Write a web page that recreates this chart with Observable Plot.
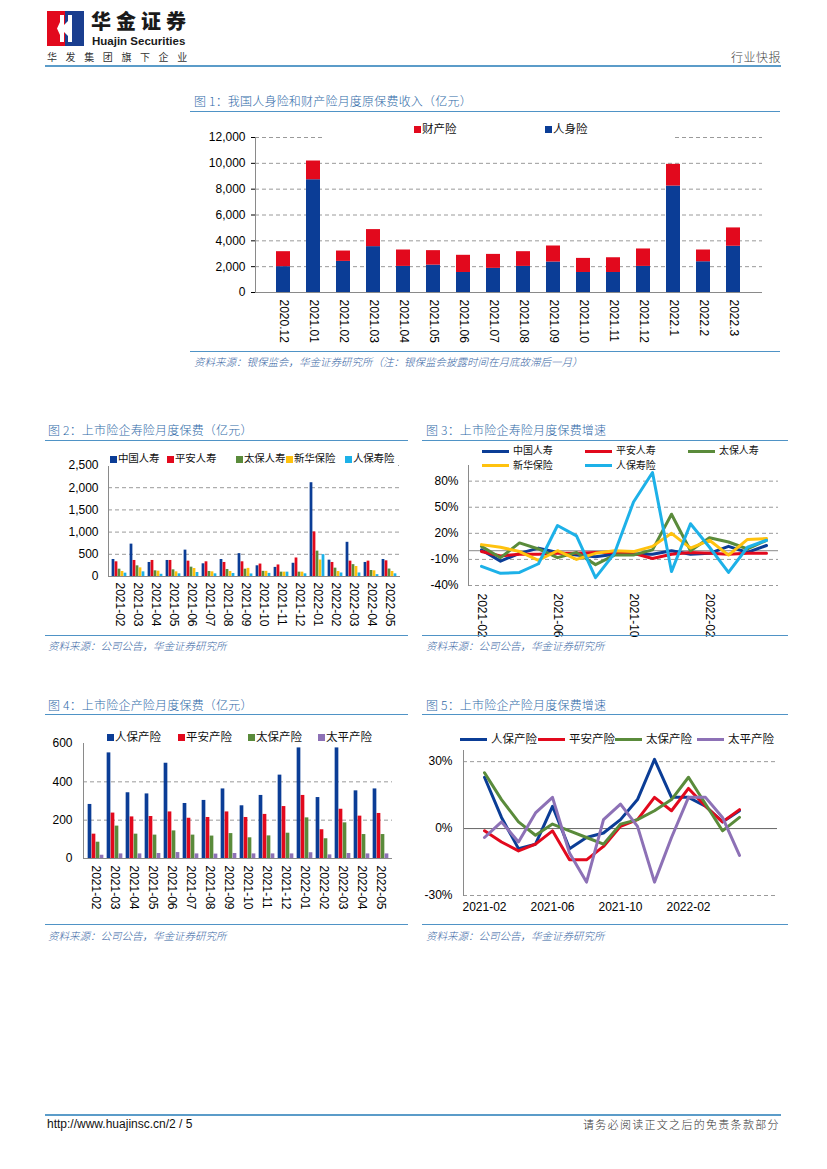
<!DOCTYPE html>
<html><head><meta charset="utf-8">
<script src="https://cdn.jsdelivr.net/npm/d3@7"></script>
<script src="https://cdn.jsdelivr.net/npm/@observablehq/plot@0.6"></script>
<style>
body{margin:0;background:#fff;font-family:"Liberation Sans",Arial,"Noto Sans CJK SC",sans-serif;}
#page{position:relative;width:827px;height:1169px;overflow:hidden;background:#fff}
.title{position:absolute;font-family:"Noto Sans CJK SC",sans-serif;font-size:12px;line-height:14px;color:#2f6aa8;font-weight:300;white-space:nowrap;letter-spacing:0.2px}
.src{position:absolute;font-family:"Noto Sans CJK SC",sans-serif;font-size:10.5px;line-height:12px;color:#3564a3;font-style:italic;white-space:nowrap;font-weight:300}
.hr{position:absolute;height:0;border-top:1.3px solid #4f93c6}
.leg{position:absolute;font-family:"Noto Sans CJK SC",sans-serif;font-size:11.5px;line-height:14px;color:#111;white-space:nowrap}
.leg.sm{font-size:10.5px;line-height:11px;letter-spacing:-0.2px}
.leg.xs{font-size:10px;line-height:normal;letter-spacing:-0.1px}
.legbg{position:absolute;background:#fff}
.sw{display:inline-block;vertical-align:middle;margin-right:1px}
</style></head>
<body><div id="page"></div>
<script>
// ---------------- data ----------------
const months1 = ["2020.12","2021.01","2021.02","2021.03","2021.04","2021.05","2021.06","2021.07","2021.08","2021.09","2021.10","2021.11","2021.12","2022.1","2022.2","2022.3"];
const types1 = ["人身险","财产险"];
const life1 = [2000,8730,2410,3550,2020,2120,1550,1870,2020,2360,1550,1550,2020,8240,2380,3580];
const prop1 = [1160,1450,800,1320,1270,1120,1330,1080,1140,1240,1090,1140,1350,1680,910,1420];
const yTicks1 = [0,2000,4000,6000,8000,10000,12000];

const months2 = ["2021-02","2021-03","2021-04","2021-05","2021-06","2021-07","2021-08","2021-09","2021-10","2021-11","2021-12","2022-01","2022-02","2022-03","2022-04","2022-05"];
const lifeCos = ["中国人寿","平安人寿","太保人寿","新华保险","人保寿险"];
const gsLife = [383,729,316,361,594,286,383,515,241,205,298,2112,368,770,316,383];
const paLife = [331,361,361,361,346,331,316,331,280,260,417,1004,316,346,346,353];
const tbLife = [165,240,128,150,210,113,158,165,116,98,98,571,188,267,135,168];
const xhLife = [113,195,120,105,180,105,113,183,116,98,98,370,112,225,128,113];
const rbLife = [75,105,50,60,90,60,68,58,70,98,60,492,79,79,42,60];
const yTicks2 = [0,500,1000,1500,2000,2500];

const gsGrowth = [1,-12,-3,3,-2,-5,-7,-4,-4,-4,0,-4,-3,5,-2,6];
const paGrowth = [-1,-6,-4,-4,-3,-3,-2,-2,-3,-9,-4,-2,-3,-4,-3,-3];
const tbGrowth = [5,-8,9,2,-8,-2,-16,-5,-5,1,42,0,15,10,2,12];
const xhGrowth = [7,4,-1,-11,0,-10,-3,0,-1,5,20,3,12,-5,13,14];
const rbGrowth = [-18,-26,-25,-15,29,17,-31,-3,56,90,-24,31,4,-25,4,12];
const yTicks3 = [-40,-10,20,50,80];
const xTicksLine = ["2021-02","2021-06","2021-10","2022-02"];

const propCos = ["人保产险","平安产险","太保产险","太平产险"];
const rbProp = [282,551,343,337,497,287,303,363,275,329,435,577,318,577,353,363];
const paProp = [127,237,217,219,243,210,214,243,214,230,271,329,150,257,221,235];
const tbProp = [85,169,127,122,144,122,117,130,108,118,132,212,103,186,125,125];
const tpProp = [17,24,24,26,31,24,23,26,24,24,24,30,19,26,24,24];
const yTicks4 = [0,200,400,600];

const rbPropG = [23,5,-9,-7,10,-9,-4,-2,4,13,31,14,14,10,3,8];
const paPropG = [-1,-6,-10,-7,-1,-14,-14,-8,1,4,14,8,18,10,3,8.5];
const tbPropG = [25,13,3,-3,2,-1,-4,-7,2,4,8,13,23,11,-1,5];
const tpPropG = [-4,3,-6,7,14,-11,-24,4,11,1,-24,-4,14,14,5,-12];
const yTicks5 = [-30,0,30];

// ---------------- styles ----------------
const BLUE="#0b3d96", RED="#e2091d", GREEN="#5a8b3b", YELLOW="#ffc20e", CYAN="#1db1e8", PURPLE="#8d71b6";
const GRID="#9a9a9a", AXIS="#8a8a8a";
const STYLE = {fontFamily:'"Liberation Sans", Arial, sans-serif', fontSize:"12px", color:"#000", background:"transparent", overflow:"visible"};
const page = document.getElementById("page");

function place(el, left, top){ el.style.position="absolute"; el.style.left=left+"px"; el.style.top=top+"px"; page.appendChild(el); return el; }
function div(cls, text, left, top, extra){ const d=document.createElement("div"); d.className=cls; if(text!=null) d.textContent=text; if(extra) Object.assign(d.style, extra); return place(d,left,top); }
function hr(left, top, width){ return div("hr", null, left, top, {width:width+"px"}); }
function legendItem(name, color, left, top, kind, size){
  const d=document.createElement("div"); d.className="leg"+(size?" "+size:"");
  const s=document.createElement("span"); s.className="sw";
  if(kind==="line"){ Object.assign(s.style,{width:"27px",height:"3px",background:color,marginRight:"4px"}); }
  else { Object.assign(s.style,{width:"7px",height:"7px",background:color}); }
  d.appendChild(s); d.appendChild(document.createTextNode(name));
  return place(d,left,top);
}

// ---------------- header / footer ----------------
const logo = document.createElementNS("http://www.w3.org/2000/svg","svg");
logo.setAttribute("width","37"); logo.setAttribute("height","35");
logo.innerHTML = '<rect x="0" y="0" width="18" height="35" fill="#e2091d"/><rect x="18" y="0" width="19" height="35" fill="#1a3e8f"/>'+
  '<path d="M13 4 H17 V14 L21 10 V4 H25 V31 H21 V25 L17 21 V31 H13 V24 L10 17.5 L13 11 Z" fill="#fff"/>';
place(logo, 47, 11);
div("", "华金证券", 91, 6, {position:"absolute",fontFamily:'"Noto Sans CJK SC"',fontWeight:"900",fontSize:"20px",lineHeight:"normal",color:"#1a1a1a",letterSpacing:"5px"});
div("", "Huajin Securities", 92, 35, {position:"absolute",fontFamily:'"Liberation Sans Narrow","Liberation Sans",Arial',fontWeight:"bold",fontSize:"11.5px",lineHeight:"normal",color:"#1a1a1a",letterSpacing:"0px"});
div("", "华发集团旗下企业", 47, 50, {position:"absolute",fontFamily:'"Noto Sans CJK SC"',fontSize:"10px",lineHeight:"14px",color:"#333",letterSpacing:"8.6px"});
div("", "行业快报", 731, 50, {position:"absolute",fontFamily:'"Noto Sans CJK SC"',fontSize:"12px",lineHeight:"14px",color:"#444",fontWeight:"300",letterSpacing:"0.5px"});
div("", null, 45, 65, {position:"absolute",width:"736px",height:"2px",background:"#5b9cc9"});

div("", null, 45, 1114, {position:"absolute",width:"736px",height:"1.5px",background:"#5b9cc9"});
div("", "http://www.huajinsc.cn/2 / 5", 47, 1117, {position:"absolute",fontFamily:'"Liberation Sans",Arial',fontSize:"12px",lineHeight:"14px",color:"#111"});
div("", "请务必阅读正文之后的免责条款部分", 583, 1117, {position:"absolute",fontFamily:'"Noto Sans CJK SC"',fontSize:"11px",lineHeight:"14px",color:"#333",fontWeight:"300",letterSpacing:"1.3px"});

// ---------------- chart 1 ----------------
div("title","图 1：我国人身险和财产险月度原保费收入（亿元）",194,94);
hr(190,111,590);
const rows1 = months1.flatMap((m,i)=>[{m, s:types1[0], v:life1[i]},{m, s:types1[1], v:prop1[i]}]);
const p1 = Plot.plot({
  width:590, height:237, marginLeft:65, marginRight:18, marginTop:22, marginBottom:60,
  style:STYLE,
  x:{domain:months1, padding:0.52},
  y:{domain:[0,12000]},
  color:{domain:types1, range:[BLUE,RED]},
  marks:[
    Plot.ruleY(yTicks1.filter(d=>d>0),{stroke:GRID, strokeDasharray:"4,3"}),
    Plot.barY(rows1,{x:"m", y:"v", fill:"s"}),
    Plot.ruleY([0],{stroke:AXIS}),
    Plot.frame({anchor:"left", stroke:AXIS}),
    Plot.axisY(yTicks1,{tickFormat:d3.format(","), tickSize:4, tickPadding:6, label:null}),
    Plot.axisX({tickRotate:90, tickSize:0, tickPadding:7, label:null})
  ]
});
place(p1,190,115);
div("legbg",null,325,119,{width:"348px",height:"19px"});
legendItem(types1[1], RED, 414, 121);
legendItem(types1[0], BLUE, 545, 121);
hr(190,351,590);
div("src","资料来源：银保监会，华金证券研究所（注：银保监会披露时间在月底故滞后一月）",194,356);

// ---------------- chart 2 ----------------
div("title","图 2：上市险企寿险月度保费（亿元）",48,423);
hr(45,440,363);
const lifeSeries = [gsLife,paLife,tbLife,xhLife,rbLife];
const lifeColors = [BLUE,RED,GREEN,YELLOW,CYAN];
const rows2 = months2.flatMap((m,i)=>lifeCos.map((s,k)=>({m, s, v:lifeSeries[k][i]})));
const W2=365, ML2=63, MR2=10, bw2=(W2-ML2-MR2)/months2.length, barW2=3;
const p2 = Plot.plot({
  width:W2, height:190, marginLeft:ML2, marginRight:MR2, marginTop:21, marginBottom:58,
  style:STYLE,
  x:{domain:months2, padding:0},
  y:{domain:[0,2500]},
  marks:[
    Plot.ruleY(yTicks2.filter(d=>d>0),{stroke:GRID, strokeDasharray:"4,3"}),
    ...lifeCos.map((s,k)=>Plot.barY(rows2.filter(r=>r.s===s),{x:"m", y:"v", fill:lifeColors[k],
        insetLeft:(bw2-barW2)/2+(k-2)*barW2, insetRight:(bw2-barW2)/2-(k-2)*barW2})),
    Plot.ruleY([0],{stroke:AXIS}),
    Plot.frame({anchor:"left", stroke:AXIS}),
    Plot.axisY(yTicks2,{tickFormat:d3.format(","), tickSize:0, tickPadding:10, label:null}),
    Plot.axisX({tickRotate:90, tickSize:0, tickPadding:6, label:null})
  ]
});
place(p2,45,444);
div("legbg",null,108,449,{width:"290px",height:"17px"});
[110,167,236,286,345].forEach((x,k)=>legendItem(lifeCos[k], lifeColors[k], x, 452, "box", "sm"));
hr(45,635,363);
div("src","资料来源：公司公告，华金证券研究所",48,640);

// ---------------- chart 3 ----------------
div("title","图 3：上市险企寿险月度保费增速",426,423);
hr(422,440,366);
const growthSeries = [gsGrowth,paGrowth,tbGrowth,xhGrowth,rbGrowth];
const rows3 = lifeCos.flatMap((s,k)=>months2.map((m,i)=>({m, s, v:growthSeries[k][i]})));
const p3 = Plot.plot({
  width:366, height:190, marginLeft:46, marginRight:10, marginTop:21, marginBottom:49,
  style:STYLE,
  x:{type:"point", domain:months2, padding:0.5},
  y:{domain:[-40,98]},
  color:{domain:lifeCos, range:lifeColors},
  marks:[
    Plot.ruleY(yTicks3,{stroke:GRID, strokeDasharray:"4,3"}),
    Plot.ruleY([0],{stroke:AXIS}),
    Plot.frame({anchor:"left", stroke:AXIS}),
    Plot.line(rows3,{x:"m", y:"v", stroke:"s", z:"s", strokeWidth:3}),
    Plot.axisY(yTicks3,{tickFormat:d=>d+"%", tickSize:0, tickPadding:10, label:null}),
    Plot.axisX(xTicksLine,{tickRotate:90, tickSize:0, tickPadding:8, label:null})
  ]
});
place(p3,422,444);
legendItem(lifeCos[0], lifeColors[0], 482, 442, "line", "xs");
legendItem(lifeCos[1], lifeColors[1], 585, 442, "line", "xs");
legendItem(lifeCos[2], lifeColors[2], 688, 442, "line", "xs");
legendItem(lifeCos[3], lifeColors[3], 482, 456.6, "line", "xs");
legendItem(lifeCos[4], lifeColors[4], 585, 456.6, "line", "xs");
hr(422,635,366);
div("src","资料来源：公司公告，华金证券研究所",426,640);

// ---------------- chart 4 ----------------
div("title","图 4：上市险企产险月度保费（亿元）",48,698);
hr(45,714,363);
const propSeries = [rbProp,paProp,tbProp,tpProp];
const propColors = [BLUE,RED,GREEN,PURPLE];
const rows4 = months2.flatMap((m,i)=>propCos.map((s,k)=>({m, s, v:propSeries[k][i]})));
const W4=365, ML4=38, MR4=18, bw4=(W4-ML4-MR4)/months2.length, barW4=4;
const p4 = Plot.plot({
  width:W4, height:205, marginLeft:ML4, marginRight:MR4, marginTop:25, marginBottom:65,
  style:STYLE,
  x:{domain:months2, padding:0},
  y:{domain:[0,600]},
  marks:[
    Plot.ruleY([200,400],{stroke:GRID, strokeDasharray:"4,3"}),
    ...propCos.map((s,k)=>Plot.barY(rows4.filter(r=>r.s===s),{x:"m", y:"v", fill:propColors[k],
        insetLeft:(bw4-barW4)/2+(k-1.5)*barW4, insetRight:(bw4-barW4)/2-(k-1.5)*barW4})),
    Plot.ruleY([0],{stroke:AXIS}),
    Plot.frame({anchor:"left", stroke:AXIS}),
    Plot.axisY(yTicks4,{tickSize:0, tickPadding:11, label:null}),
    Plot.axisX({tickRotate:90, tickSize:0, tickPadding:7, label:null})
  ]
});
place(p4,45,718);
[107,178,248,318].forEach((x,k)=>legendItem(propCos[k], propColors[k], x, 729));
hr(45,924,363);
div("src","资料来源：公司公告，华金证券研究所",48,930);

// ---------------- chart 5 ----------------
div("title","图 5：上市险企产险月度保费增速",426,698);
hr(422,714,366);
const propGSeries = [rbPropG,paPropG,tbPropG,tpPropG];
const rows5 = propCos.flatMap((s,k)=>months2.map((m,i)=>({m, s, v:propGSeries[k][i]})));
const p5 = Plot.plot({
  width:366, height:205, marginLeft:41, marginRight:11, marginTop:32, marginBottom:28,
  style:STYLE,
  x:{type:"point", domain:months2, range:[49.7,328.7]},
  y:{domain:[-30,35]},
  color:{domain:propCos, range:propColors},
  marks:[
    Plot.ruleY([-30,30],{stroke:GRID, strokeDasharray:"4,3"}),
    Plot.ruleY([0],{stroke:"#666"}),
    Plot.frame({anchor:"left", stroke:AXIS}),
    Plot.line(rows5,{x:"m", y:"v", stroke:"s", z:"s", strokeWidth:3}),
    Plot.axisY(yTicks5,{tickFormat:d=>d+"%", tickSize:0, tickPadding:11, label:null}),
    Plot.axisX(xTicksLine,{tickSize:0, tickPadding:7, label:null})
  ]
});
place(p5,422,718);
legendItem(propCos[0], propColors[0], 460, 731, "line");
legendItem(propCos[1], propColors[1], 538, 731, "line");
legendItem(propCos[2], propColors[2], 615, 731, "line");
legendItem(propCos[3], propColors[3], 697, 731, "line");
hr(422,924,366);
div("src","资料来源：公司公告，华金证券研究所",426,930);
</script>
</body></html>
